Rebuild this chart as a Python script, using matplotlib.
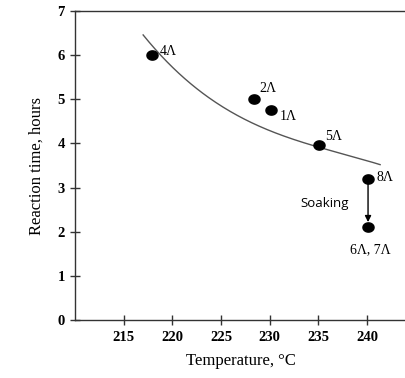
import matplotlib
matplotlib.use("Agg")
import matplotlib.pyplot as plt
from matplotlib.path import Path
import numpy as np

# Data points
pt_x = [217.85, 228.4, 230.1, 235.05, 240.1, 240.1]
pt_y = [6.0, 5.0, 4.75, 3.97, 3.2, 2.1]

# Trend curve (drawn as a smooth fit through them)
curve_x = [216.99, 218.70, 220.76, 222.82, 223.6, 225.39, 227.45, 230.53,
           232.08, 234.14, 237.22, 238.77, 241.34]
curve_y = [6.42, 6.05, 5.60, 5.22, 5.05, 4.76, 4.50, 4.27,
           4.12, 3.97, 3.81, 3.68, 3.51]

labels = ["4Λ", "2Λ", "1Λ", "5Λ", "8Λ", "6Λ, 7Λ"]
label_x = [218.7, 228.9, 231.0, 235.7, 241.0, 240.3]
label_y = [6.08, 5.24, 4.60, 4.16, 3.22, 1.59]
label_ha = ["left", "left", "left", "left", "left", "center"]

xticks = [215, 220, 225, 230, 235, 240]
yticks = [0, 1, 2, 3, 4, 5, 6, 7]

serif = ["Liberation Serif", "DejaVu Serif"]

# smooth trend line through the read points
coef = np.polyfit(curve_x, curve_y, 3)
xs = np.linspace(curve_x[0], curve_x[-1], 200)
ys = np.polyval(coef, xs)

# slightly wide elliptical marker
t = np.linspace(0, 2 * np.pi, 40)
ell = Path(np.column_stack([1.2 * np.cos(t), np.sin(t)]), closed=True)

fig = plt.figure(figsize=(4.06, 3.78), dpi=100)
ax = fig.add_axes([0.185, 0.153, 0.815, 0.818])

ax.plot(xs, ys, color="#555555", lw=1.0)
ax.plot(pt_x, pt_y, linestyle="none", marker=ell, color="black", ms=8, zorder=3)

for s, x, y, ha in zip(labels, label_x, label_y, label_ha):
    ax.text(x, y, s, ha=ha, va="center", fontsize=10, family=serif)

ax.annotate("", xy=(pt_x[5], 2.22), xytext=(pt_x[4], pt_y[4]),
            arrowprops=dict(arrowstyle="-|>", color="black", lw=1.0,
                            mutation_scale=9, shrinkA=0, shrinkB=0))
ax.text(235.6, 2.65, "Soaking", ha="center", va="center", fontsize=9.5,
        family=["Open Sans", "DejaVu Sans"])

ax.set_xlim(210, 244)
ax.set_ylim(0, 7)
ax.set_xticks(xticks)
ax.set_yticks(yticks)
ax.set_xticklabels([str(v) for v in xticks], family=serif, fontsize=10.5, fontweight="bold")
ax.set_yticklabels([str(v) for v in yticks], family=serif, fontsize=10.5, fontweight="bold")
ax.tick_params(direction="inout", length=7, width=1.0, color="#333333")
ax.tick_params(axis="x", pad=4)
ax.tick_params(axis="y", pad=4)
ax.spines["right"].set_visible(False)
for s in ["left", "bottom", "top"]:
    ax.spines[s].set_color("#333333")
    ax.spines[s].set_linewidth(1.0)

ax.set_xlabel("Temperature, °C", family=serif, fontsize=12, labelpad=7)
ax.set_ylabel("Reaction time, hours", family=serif, fontsize=12, labelpad=9)

fig.savefig("out.png", dpi=100)
